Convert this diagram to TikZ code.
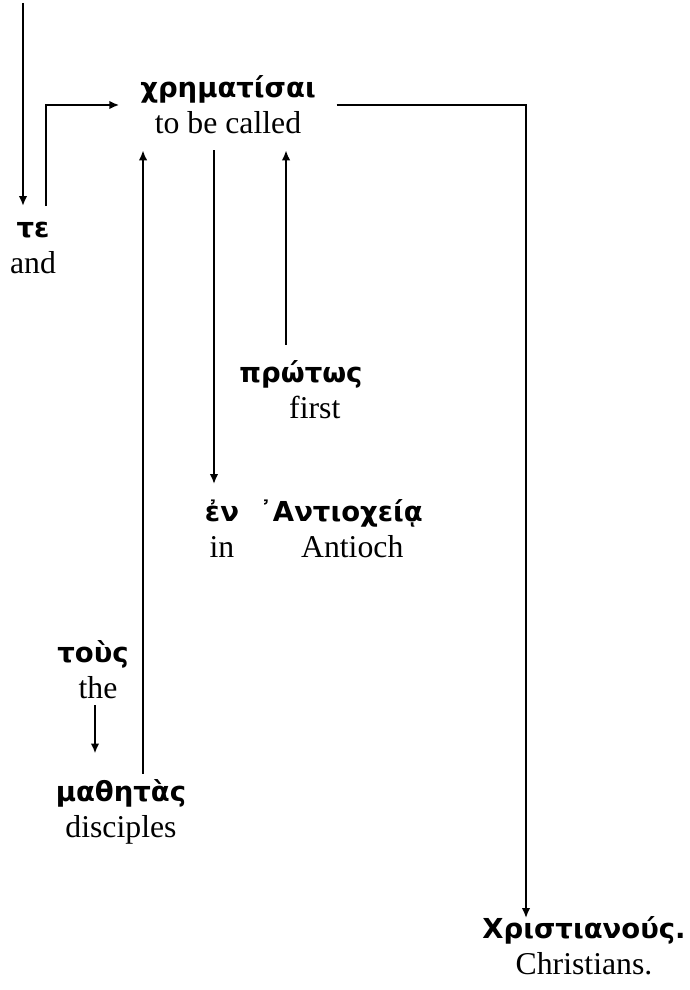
\documentclass[tikz,border=0pt]{standalone}
\usepackage{fontspec}
\setmainfont{Liberation Serif}
\newfontfamily\grk{DejaVu Sans}
\usetikzlibrary{arrows.meta}
\newcommand{\gr}[1]{{\grk\bfseries\fontsize{11}{14.5}\selectfont #1}}

\begin{document}
\begin{tikzpicture}[x=0.4pt, y=-0.4pt, thick, >={Latex[length=4pt,width=3.4pt]},
  word/.style={align=center, inner xsep=8pt, inner ysep=6pt,
    font=\fontsize{12.7}{14.5}\selectfont}]
  \useasboundingbox (0,0) rectangle (689,990);

  % words
  \node[word] (te)   at (33,248)  {\gr{τε}\\and};
  \node[word] (chr)  at (228,105) {\gr{χρηματίσαι}\\to be called};
  \node[word] (prot) at (301,390) {\gr{πρώτως}\\\hspace*{11pt}first};
  \node[word] (en)   at (222,529) {\gr{ἐν}\\in};
  \node[word] (ant)  at (341,529) {\gr{᾿Αντιοχείᾳ}\\\hspace*{9pt}Antioch};
  \node[word] (tous) at (93,670)  {\gr{τοὺς}\\\hspace*{4pt}the};
  \node[word] (math) at (121,812) {\gr{μαθητὰς}\\disciples};
  \node[word] (chri) at (584,946) {\gr{Χριστιανούς.}\\Christians.};

  % columns of the connectors
  \coordinate (top)    at (23,3);
  \coordinate (c-te)   at (46,0);
  \coordinate (c-tous) at (95,0);
  \coordinate (c-math) at (143,0);
  \coordinate (c-en)   at (214,0);
  \coordinate (c-prot) at (286,0);
  \coordinate (c-chri) at (526,0);

  % connectors
  \draw[->] (top) -- (top |- te.north);
  \draw[->] (te.north -| c-te) |- (chr.west);
  \draw[->, shorten >=-7pt] (chr.east) -| (chri.north -| c-chri);
  \draw[->] (chr.south -| c-en) -- (en.north -| c-en);
  \draw[->] (prot.north -| c-prot) -- (chr.south -| c-prot);
  \draw[->, shorten <=-4pt] (math.north -| c-math) -- (chr.south -| c-math);
  \draw[->, shorten <=-4pt, shorten >=4pt] (tous.south -| c-tous) -- (math.north -| c-tous);
\end{tikzpicture}
\end{document}
